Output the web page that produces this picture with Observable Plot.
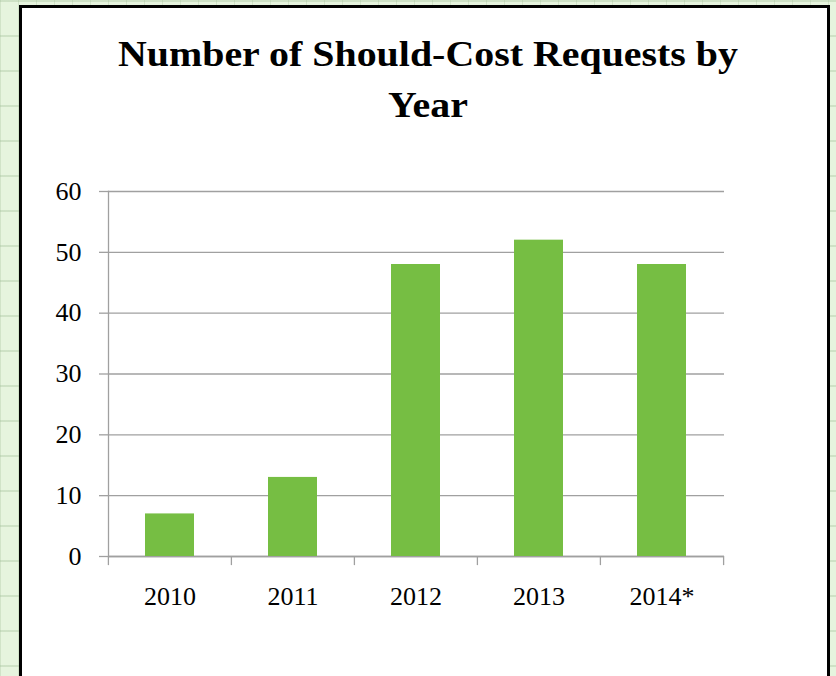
<!DOCTYPE html>
<html>
<head>
<meta charset="utf-8">
<script src="https://cdn.jsdelivr.net/npm/d3@7"></script>
<script src="https://cdn.jsdelivr.net/npm/@observablehq/plot@0.6"></script>
<style>
  html, body { margin: 0; padding: 0; width: 836px; height: 676px; overflow: hidden; }
  body {
    background-color: #e6f4de;
    background-image:
      linear-gradient(to right, rgba(160,190,150,0.3) 1px, transparent 1px),
      linear-gradient(to bottom, rgba(160,190,150,0.35) 2px, transparent 2px);
    background-size: 18px 35px, 35px 35px;
    font-family: "Liberation Serif", serif;
  }
  #frame {
    position: absolute; left: 19px; top: 5px; width: 805px; height: 700px;
    background: #fff; border: 3px solid #000;
  }
  #title {
    position: absolute; left: 10px; top: 29px; width: 836px; text-align: center;
    font-family: "Liberation Serif", serif; font-weight: bold; font-size: 35px;
    line-height: 51px; color: #000;
    transform: scaleX(1.14); transform-origin: 418px 0;
  }
  #chart { position: absolute; left: 0; top: 160px; }
</style>
</head>
<body>
<div id="frame"></div>
<div id="title">Number of Should-Cost Requests by<br>Year</div>
<div id="chart"></div>
<script>
const years = ["2010", "2011", "2012", "2013", "2014*"];
const requests = [7, 13, 48, 52, 48];
const yTicks = [0, 10, 20, 30, 40, 50, 60];

const data = years.map((y, i) => ({year: y, value: requests[i]}));

const W = 836, H = 516, ML = 108, MR = 112, MT = 31, MB = 120;
const step = (W - ML - MR) / years.length;
const grey = "#a0a0a0";

const plot = Plot.plot({
  width: W, height: H,
  marginLeft: ML, marginRight: MR, marginTop: MT, marginBottom: MB,
  style: {fontFamily: "'Liberation Serif', serif", fontSize: "26px", color: "#000", background: "transparent"},
  x: {domain: years, paddingInner: 0.6, paddingOuter: 0.3, label: null},
  y: {domain: [0, 60], label: null},
  marks: [
    Plot.gridY(yTicks, {stroke: grey, strokeOpacity: 1, strokeWidth: 1.3}),
    Plot.axisY(yTicks, {tickSize: 9, tickPadding: 18, stroke: grey, strokeWidth: 1.3, fill: "#000", fontSize: 26}),
    Plot.frame({anchor: "left", stroke: grey, strokeWidth: 1.3}),
    Plot.ruleY([0], {stroke: grey, strokeWidth: 1.3}),
    Plot.barY(data, {x: "year", y: "value", fill: "#76be43"}),
    Plot.ruleX(years, {x: d => d, y1: 0, y2: -1.5, dx: -step / 2, stroke: grey, strokeWidth: 1.3}),
    Plot.ruleX(years.slice(-1), {x: d => d, y1: 0, y2: -1.5, dx: step / 2, stroke: grey, strokeWidth: 1.3}),
    Plot.axisX({tickSize: 0, tickPadding: 30, fill: "#000", fontSize: 26})
  ]
});
document.getElementById("chart").appendChild(plot);
</script>
</body>
</html>
